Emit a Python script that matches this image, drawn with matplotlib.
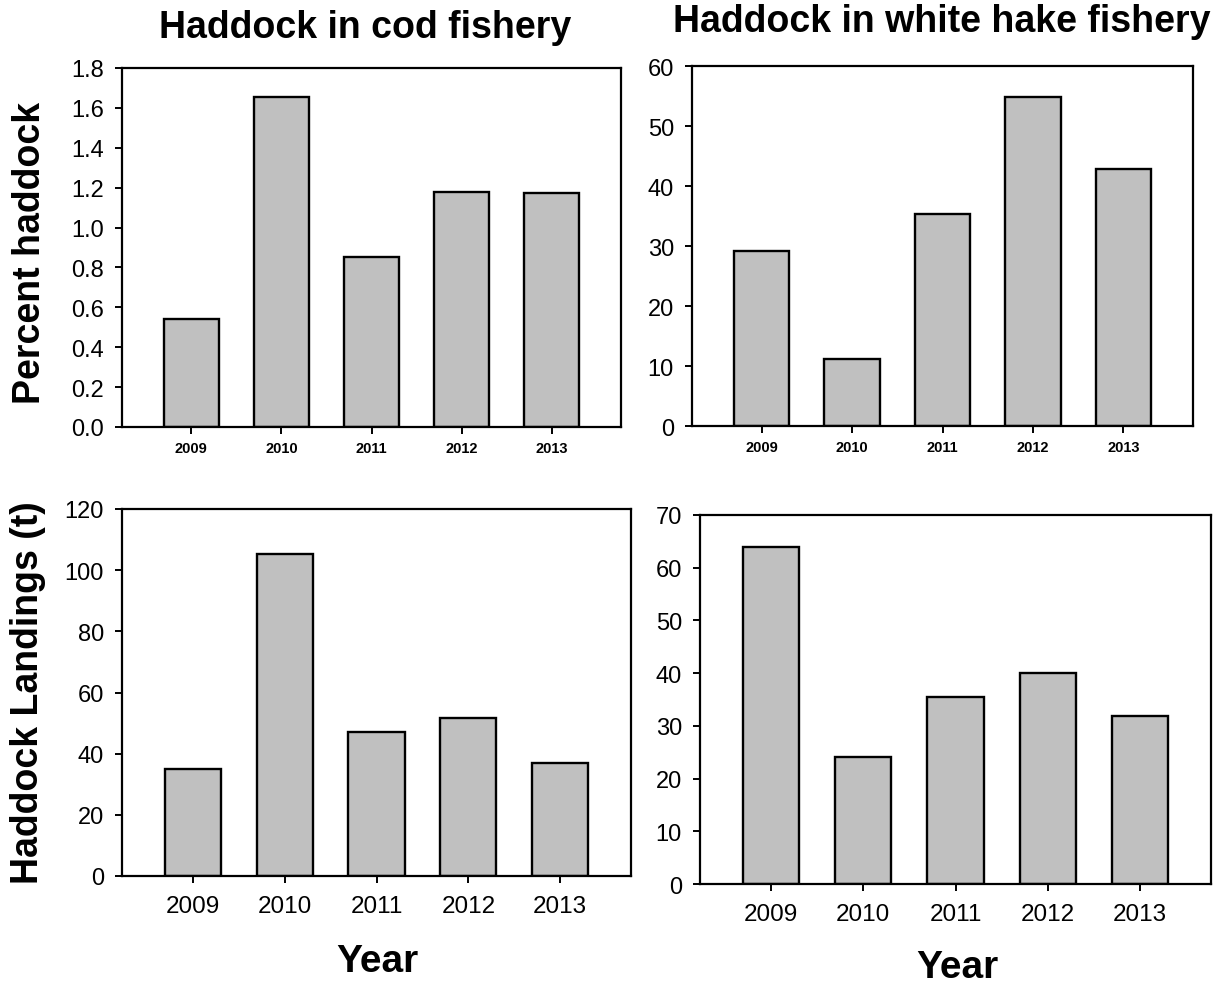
import matplotlib
matplotlib.use("Agg")
import matplotlib.pyplot as plt
from matplotlib.ticker import FormatStrFormatter

plt.rcParams['font.family'] = ['Liberation Sans', 'DejaVu Sans']

years = ["2009", "2010", "2011", "2012", "2013"]

pct_cod = [0.54, 1.655, 0.85, 1.18, 1.175]
pct_hake = [29.1, 11.2, 35.3, 54.8, 42.8]
land_cod = [35.1, 105.4, 47.2, 51.8, 37.0]
land_hake = [64.0, 24.1, 35.5, 40.0, 31.8]

title_cod = "Haddock in cod fishery"
title_hake = "Haddock in white hake fishery"
ylab_pct = "Percent haddock"
ylab_land = "Haddock Landings (t)"
xlab = "Year"

W, H = 1221, 987
fig = plt.figure(figsize=(W / 100, H / 100), dpi=100)


def px_axes(x0, y0, x1, y1):
    # pixel box (left, top, right, bottom) -> figure fraction rect
    return fig.add_axes([x0 / W, 1 - y1 / H, (x1 - x0) / W, (y1 - y0) / H])


def bar_panel(ax, values, ymax, ystep, fmt, xfs, xweight, xpad):
    xs = list(range(len(values)))
    ax.bar(xs, values, width=0.61, color="#c0c0c0", edgecolor="black",
           linewidth=1.7, zorder=2)
    ax.set_xlim(-0.77, len(values) - 1 + 0.77)
    ax.set_ylim(0, ymax)
    ticks = [i * ystep for i in range(int(round(ymax / ystep)) + 1)]
    ax.set_yticks(ticks)
    ax.yaxis.set_major_formatter(FormatStrFormatter(fmt))
    ax.set_xticks(xs)
    ax.set_xticklabels(years, fontsize=xfs, fontweight=xweight)
    ax.tick_params(axis="y", direction="out", length=5, width=1.4,
                   labelsize=17, pad=8, colors="black")
    ax.tick_params(axis="x", direction="out", length=5, width=1.4,
                   pad=xpad, colors="black")
    for s in ax.spines.values():
        s.set_linewidth(1.6)
        s.set_color("black")


ax1 = px_axes(122, 69, 621, 428)
bar_panel(ax1, pct_cod, 1.8, 0.2, "%.1f", 10.5, "bold", 5)

ax2 = px_axes(692, 67, 1193, 427)
bar_panel(ax2, pct_hake, 60, 10, "%d", 10.5, "bold", 5)

ax3 = px_axes(122, 510, 631, 877)
bar_panel(ax3, land_cod, 120, 20, "%d", 17.5, "normal", 9)

ax4 = px_axes(700, 516, 1211, 885)
bar_panel(ax4, land_hake, 70, 10, "%d", 17.5, "normal", 9)

bold = dict(fontweight="bold", color="black")
fig.text(365 / W, 1 - 28 / H, title_cod, fontsize=27, ha="center", va="center", **bold)
fig.text(942 / W, 1 - 22 / H, title_hake, fontsize=27, ha="center", va="center", **bold)
fig.text(30 / W, 1 - 253 / H, ylab_pct, fontsize=27, rotation=90,
         ha="center", va="center", **bold)
fig.text(28 / W, 1 - 693 / H, ylab_land, fontsize=27, rotation=90,
         ha="center", va="center", **bold)
fig.text(377 / W, 1 - 962 / H, xlab, fontsize=28, ha="center", va="center", **bold)
fig.text(957 / W, 1 - 968 / H, xlab, fontsize=28, ha="center", va="center", **bold)

fig.savefig("out.png", dpi=100, facecolor="white")
